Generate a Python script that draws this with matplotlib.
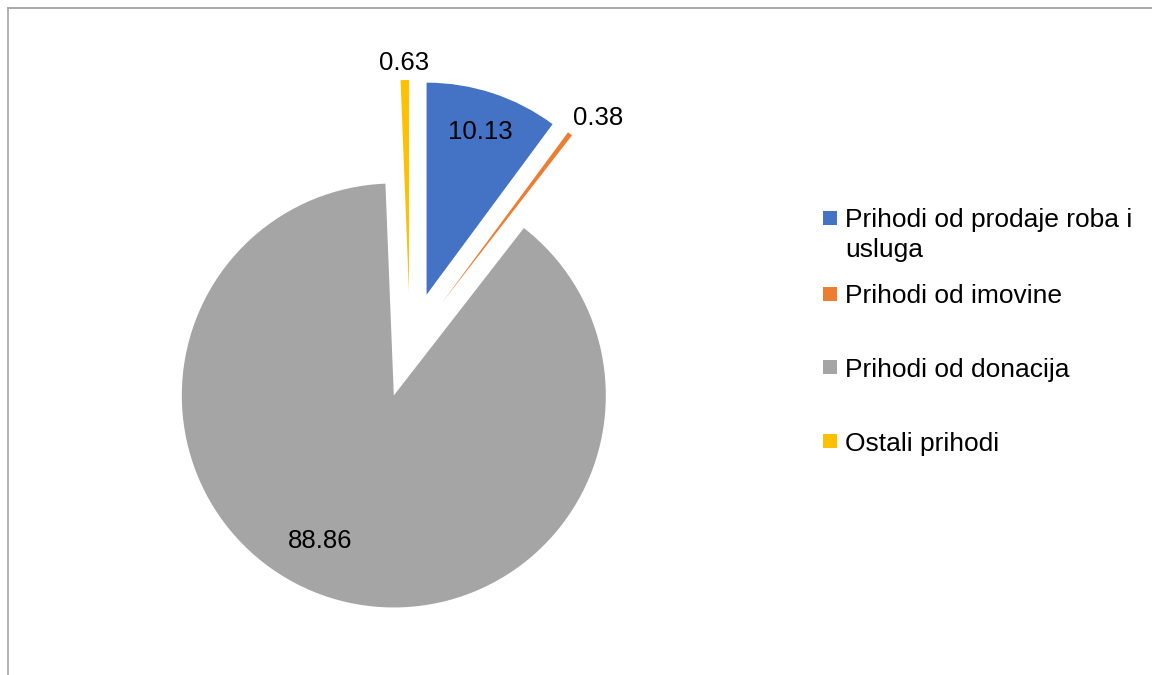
import matplotlib.pyplot as plt
import numpy as np
from matplotlib.patches import Rectangle
from matplotlib.lines import Line2D

plt.rcParams['font.family'] = ['Liberation Sans', 'DejaVu Sans']

# 数据
labels = ['Prihodi od prodaje roba i\nusluga', 'Prihodi od imovine',
          'Prihodi od donacija', 'Ostali prihodi']
values = [10.13, 0.38, 88.86, 0.63]
value_labels = ['10.13', '0.38', '88.86', '0.63']
colors = ['#4472C4', '#ED7D31', '#A5A5A5', '#FFC000']

W, H = 1152, 675
fig = plt.figure(figsize=(W / 100, H / 100), dpi=100)
fig.patch.set_facecolor('white')

# 饼图中心与半径（像素）
cx, cy, r = 410, 345, 212
ax = fig.add_axes([0, 0, 1, 1])
wedges, _ = ax.pie(values, colors=colors, startangle=90, counterclock=False,
                   explode=[0.25] * 4, radius=1,
                   wedgeprops=dict(linewidth=0))
ax.set_aspect('auto')
ax.set_xlim(-cx / r, (W - cx) / r)
ax.set_ylim(-(H - cy) / r, cy / r)
ax.axis('off')

# 数据标签
label_dist = [0.81, 1.14, 0.77, 1.08]
label_dang = [0, -3, -9, 0]
for w, txt, d, da in zip(wedges, value_labels, label_dist, label_dang):
    mid = np.deg2rad((w.theta1 + w.theta2) / 2 + da)
    x0, y0 = w.center
    ax.text(x0 + d * np.cos(mid), y0 + d * np.sin(mid), txt,
            ha='center', va='center', fontsize=18.5, color='black')

# 图例（手动绘制）
leg_y = [218, 294, 367, 441]
for lab, c, y in zip(labels, colors, leg_y):
    fig.patches.append(Rectangle((823 / W, 1 - (y + 7) / H), 14 / W, 14 / H,
                                 transform=fig.transFigure, facecolor=c,
                                 edgecolor='none'))
    for i, line in enumerate(lab.split('\n')):
        fig.text(845 / W, 1 - (y + i * 29) / H, line, ha='left',
                 va='center_baseline', fontsize=19, transform=fig.transFigure)

# 边框
fig.add_artist(Line2D([8 / W, 1], [1 - 8 / H, 1 - 8 / H], color='#999999', lw=1.2,
                      transform=fig.transFigure))
fig.add_artist(Line2D([8 / W, 8 / W], [1 - 8 / H, 0], color='#a6a6a6', lw=1.2,
                      transform=fig.transFigure))

fig.savefig('out.png', dpi=100)
